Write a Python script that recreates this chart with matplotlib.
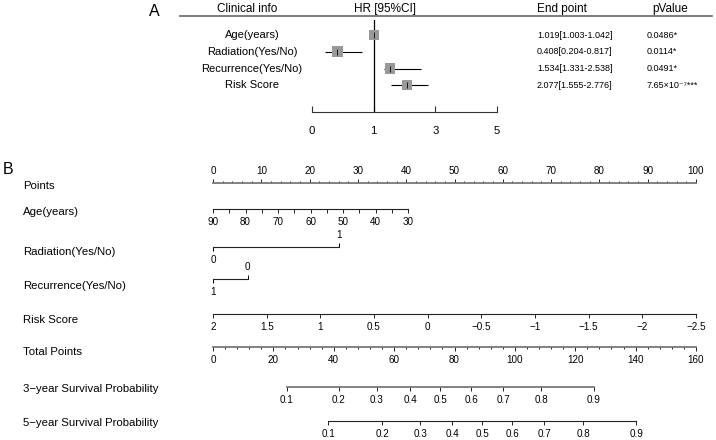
import numpy as np
import matplotlib.pyplot as plt
from matplotlib.lines import Line2D
from matplotlib.transforms import blended_transform_factory

plt.rcParams["font.family"] = ["Liberation Sans", "DejaVu Sans"]

# --
# Data: panel A (Cox regression)
# --
clin_labels = ["Age(years)", "Radiation(Yes/No)", "Recurrence(Yes/No)", "Risk Score"]
hr = [1.019, 0.408, 1.534, 2.077]
hr_lo = [1.003, 0.204, 1.331, 1.555]
hr_hi = [1.042, 0.817, 2.538, 2.776]
pvals = ["0.0486*", "0.0114*", "0.0491*", "7.65\u00d710\u207b\u2077***"]
hr_ticks = [0, 1, 3, 5]

# --
# Data: panel B (nomogram)
# --
points_ticks = list(range(0, 101, 10))
points_minor = list(range(0, 101, 2))
age_ticks = [90, 80, 70, 60, 50, 40, 30]
age_minor = [85, 75, 65, 55, 45, 35]
age_pts_at_30 = 40.4
radiation_levels = ["0", "1"]
radiation_pts = [0, 26.1]
recurrence_levels = ["1", "0"]
recurrence_pts = [0, 7.2]
risk_ticks = [2, 1.5, 1, 0.5, 0, -0.5, -1, -1.5, -2, -2.5]
total_ticks = list(range(0, 161, 20))
total_minor = list(range(0, 161, 4))
surv_probs = [0.1, 0.2, 0.3, 0.4, 0.5, 0.6, 0.7, 0.8, 0.9]
surv3_total = [24.5, 41.7, 54.3, 65.3, 75.2, 85.5, 96.1, 108.7, 126.2]
surv5_total = [38.1, 56.0, 68.6, 79.2, 89.2, 99.1, 109.7, 122.6, 140.2]

W, H = 716, 440
fig = plt.figure(figsize=(W / 100, H / 100), dpi=100)


def fx(px):
    return px / W


def fy(py):
    return 1 - py / H


# ---------------- Panel A ----------------
fig.text(fx(154), fy(12), "A", fontsize=11.5, ha="center", va="center")
fig.add_artist(Line2D([fx(180), fx(712)], [fy(16), fy(16)], transform=fig.transFigure,
                      color="#666666", lw=1.2))
for xp, t in [(247, "Clinical info"), (385, "HR [95%CI]"), (562, "End point"), (670, "pValue")]:
    fig.text(fx(xp), fy(9), t, fontsize=8.5, ha="center", va="center")

axA = fig.add_axes([fx(312), fy(112), fx(497) - fx(312), (112 - 20) / H])
xs_in = [-10] + hr_ticks + [20]
xs_out = [-10, 0, 1, 2, 3, 10.5]
axA.set_xscale("function", functions=(lambda x: np.interp(x, xs_in, xs_out),
                                      lambda x: np.interp(x, xs_out, xs_in)))
axA.set_xlim(0, 5)
axA.set_ylim(4.6, -0.9)
rows = np.arange(len(hr))
axA.hlines(rows, hr_lo, hr_hi, color="black", lw=0.8, zorder=2)
axA.scatter(hr, rows, marker="s", s=[7.0 ** 2, 8.0 ** 2, 7.5 ** 2, 7.5 ** 2],
            color="#999999", lw=0, zorder=3)
axA.scatter(hr, rows, marker="|", s=14, color="black", lw=0.6, zorder=4)
axA.axvline(1, color="black", lw=0.9)
for s in ["top", "left", "right"]:
    axA.spines[s].set_visible(False)
axA.spines["bottom"].set_color("#333333")
axA.spines["bottom"].set_bounds(0, 5)
axA.set_xticks(hr_ticks, labels=[str(t) for t in hr_ticks])
axA.tick_params(axis="x", direction="in", length=4, pad=10, labelsize=8.2, color="#333333")
axA.set_yticks([])
axA.patch.set_visible(False)

trans = blended_transform_factory(fig.transFigure, axA.transData)
for i in rows:
    axA.text(fx(252), i, clin_labels[i], ha="center", va="center", fontsize=8, transform=trans)
    axA.text(fx(537), i, f"{hr[i]:.3f}[{hr_lo[i]:.3f}-{hr_hi[i]:.3f}]", ha="left",
             va="center", fontsize=6.5, transform=trans)
    axA.text(fx(647), i, pvals[i], ha="left", va="center", fontsize=6.5, transform=trans)

# ---------------- Panel B ----------------
fig.text(fx(8), fy(169), "B", fontsize=11.5, ha="center", va="center")

LEFT, RIGHT = 213, 696
TICK_FS = 7.1


def row_axes(py, xlim):
    ax = fig.add_axes([fx(LEFT), fy(py), fx(RIGHT) - fx(LEFT), 0.0001])
    ax.set_xlim(*xlim)
    ax.patch.set_visible(False)
    ax.set_yticks([])
    for s in ["left", "right"]:
        ax.spines[s].set_visible(False)
    return ax


def style(ax, side, lo, hi, color="#222222", lw=0.8):
    other = "bottom" if side == "top" else "top"
    ax.spines[other].set_visible(False)
    ax.spines[side].set_bounds(lo, hi)
    ax.spines[side].set_color(color)
    ax.spines[side].set_linewidth(lw)
    ax.tick_params(axis="x", which="both", color="#222222", labelsize=TICK_FS, width=0.7)


row_labels = [("Points", 186), ("Age(years)", 212), ("Radiation(Yes/No)", 252),
              ("Recurrence(Yes/No)", 286), ("Risk Score", 320), ("Total Points", 352),
              ("3\u2212year Survival Probability", 389), ("5\u2212year Survival Probability", 423)]
for t, py in row_labels:
    fig.text(fx(23), fy(py), t, fontsize=8.2, ha="left", va="center")

# Points
ax = row_axes(183, (0, 100))
ax.xaxis.tick_top()
ax.set_xticks(points_ticks, labels=[str(t) for t in points_ticks])
ax.set_xticks(points_minor, minor=True)
style(ax, "top", 0, 100, color="#777777", lw=1.3)
ax.tick_params(axis="x", which="major", length=3, pad=2)
ax.tick_params(axis="x", which="minor", length=1.5)

# Age
ax = row_axes(209, (90, 90 - 60 * 100 / age_pts_at_30))
ax.set_xticks(age_ticks, labels=[str(t) for t in age_ticks])
ax.set_xticks(age_minor, minor=True)
style(ax, "bottom", min(age_ticks), max(age_ticks))
ax.tick_params(axis="x", which="both", length=3, pad=2.5)

# Radiation / Recurrence (two-sided)
for py, pts, levels in [(247, radiation_pts, radiation_levels),
                        (279, recurrence_pts, recurrence_levels)]:
    ax = row_axes(py, (0, 100))
    ax.set_xticks([pts[0]], labels=[levels[0]])
    ax.spines["top"].set_visible(False)
    ax.spines["bottom"].set_bounds(pts[0], pts[1])
    ax.spines["bottom"].set_color("#222222")
    ax.spines["bottom"].set_linewidth(0.8)
    ax.tick_params(axis="x", length=3, pad=2.5, labelsize=TICK_FS, width=0.7)
    sec = ax.secondary_xaxis("top")
    sec.set_xticks([pts[1]], labels=[levels[1]])
    sec.spines["top"].set_visible(False)
    sec.tick_params(axis="x", length=3, pad=2, labelsize=TICK_FS, width=0.7)

# Risk Score
ax = row_axes(314, (risk_ticks[0], risk_ticks[-1]))
ax.set_xticks(risk_ticks, labels=[f"{t:g}".replace("-", "\u2212") for t in risk_ticks])
style(ax, "bottom", risk_ticks[-1], risk_ticks[0])
ax.tick_params(axis="x", length=3, pad=2.5)

# Total Points
ax = row_axes(347, (0, 160))
ax.set_xticks(total_ticks, labels=[str(t) for t in total_ticks])
ax.set_xticks(total_minor, minor=True)
style(ax, "bottom", 0, 160, color="#777777", lw=1.3)
ax.tick_params(axis="x", which="major", length=3, pad=3)
ax.tick_params(axis="x", which="minor", length=1.5)

# Survival probabilities
for py, tp, col, lw in [(387, surv3_total, "#777777", 1.3), (421, surv5_total, "#222222", 0.8)]:
    ax = row_axes(py, (0, 160))
    ax.set_xticks(tp, labels=[f"{p:g}" for p in surv_probs])
    style(ax, "bottom", tp[0], tp[-1], color=col, lw=lw)
    ax.tick_params(axis="x", length=3, pad=3)

fig.savefig("out.png", dpi=100)
